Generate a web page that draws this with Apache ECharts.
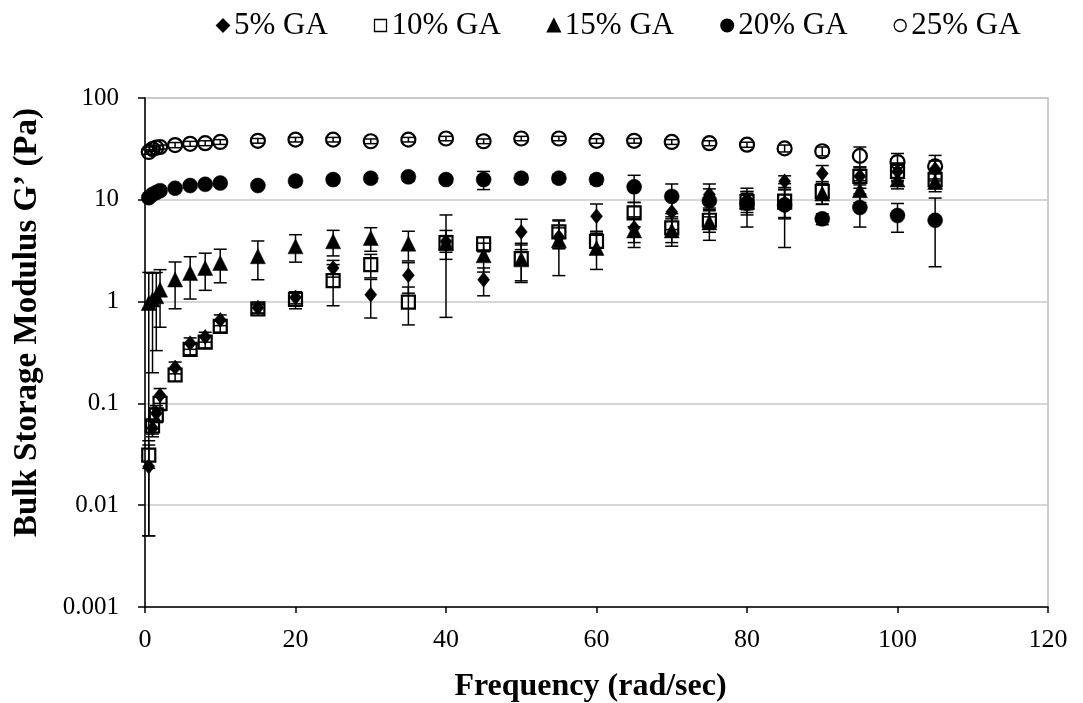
<!DOCTYPE html>
<html>
<head>
<meta charset="utf-8">
<script src="https://cdn.jsdelivr.net/npm/echarts@6/dist/echarts.min.js"></script>
<style>
  html, body { margin: 0; padding: 0; background: #ffffff; }
  #chart { width: 1083px; height: 703px; }
</style>
</head>
<body>
<div id="chart"></div>
<script>
// Oscillation frequency (rad/sec)
const freq = [0.5, 1, 1.5, 2, 4, 6, 8, 10, 15, 20, 25, 30, 35, 40, 45, 50, 55, 60, 65, 70, 75, 80, 85, 90, 95, 100, 105];

// Bulk storage modulus G' (Pa), mean and standard deviation per gum arabic level
const ga5    = [0.024, 0.057, 0.08, 0.12, 0.225, 0.39, 0.45, 0.66, 0.87, 1.1, 2.14, 1.17, 1.81, 3.9, 1.64, 4.84, 4.3, 6.89, 5.3, 7.6, 11.3, 10, 15.2, 18.1, 17, 19, 20];
const ga5Err = [0.019, 0.01, 0.015, 0.02, 0.03, 0.05, 0.05, 0.08, 0.1, 0.15, 0.4, 0.48, 0.6, 3.2, 0.5, 1.6, 1.0, 2.2, 1.5, 2.5, 3.0, 2.0, 2.0, 3.6, 4, 4, 4];

const ga10    = [0.031, 0.06, 0.077, 0.1, 0.19, 0.34, 0.4, 0.57, 0.85, 1.05, 1.61, 2.31, 0.99, 3.8, 3.69, 2.64, 4.84, 3.91, 7.44, 5.3, 6.3, 9.6, 9.7, 12.1, 17.0, 19.0, 15.8];
const ga10Err = [0.008, 0.01, 0.012, 0.015, 0.025, 0.04, 0.05, 0.07, 0.08, 0.2, 0.7, 0.6, 0.4, 1.2, 0.6, 1.1, 1.5, 1.0, 2.0, 1.5, 1.5, 2.5, 3.0, 3.0, 3.0, 3.5, 3.0];

const ga15    = [0.97, 1.05, 1.13, 1.31, 1.65, 1.91, 2.14, 2.4, 2.79, 3.49, 3.91, 4.22, 3.71, 3.75, 2.85, 2.6, 4.0, 3.37, 5.0, 5.0, 6.0, 9.5, 9.5, 11.5, 12.4, 15.8, 15.0];
const ga15Err = [0.965, 0.85, 0.8, 0.75, 0.8, 0.85, 0.85, 0.87, 1.15, 1.05, 1.1, 1.1, 1.2, 0.7, 0.9, 1.0, 2.2, 1.3, 1.6, 1.5, 2.0, 2.0, 3.0, 2.5, 3.0, 3.0, 3.0];

const ga20    = [10.5, 11.3, 11.8, 12.3, 13, 13.8, 14.2, 14.6, 13.8, 15.3, 15.8, 16.3, 16.8, 15.8, 15.8, 16.3, 16.3, 15.8, 13.4, 10.8, 9.8, 9.2, 8.9, 6.5, 8.4, 7.0, 6.3];
const ga20Err = [0.5, 0.5, 0.5, 0.6, 0.7, 0.8, 0.8, 1.0, 0.8, 1.2, 1.3, 1.3, 1.5, 1.2, 3.2, 1.5, 1.5, 1.5, 4.0, 3.5, 3.0, 3.8, 5.5, 0.8, 3.0, 2.2, 4.1];

const ga25    = [29.5, 31.5, 32.5, 33, 34.5, 35.5, 36, 37, 38, 39, 39, 37.6, 39, 40, 37.6, 40, 40, 37.9, 38, 37, 36, 34.8, 32, 30, 27, 23.5, 21.3];
const ga25Err = [1.5, 1.5, 1.5, 1.5, 2, 2, 2, 2, 2, 2, 2, 2, 2, 2, 2, 2, 2, 2, 2, 2, 2, 2, 2.5, 3, 6, 5, 6];

const seriesNames = ['5% GA', '10% GA', '15% GA', '20% GA', '25% GA'];
const xTicks = { min: 0, max: 120, interval: 20 };
const yRange = { min: 0.001, max: 100 };

const serif = '"Liberation Serif", "Times New Roman", serif';
const groups = [
  { name: seriesNames[0], vals: ga5,  err: ga5Err,  symbol: 'diamond',  size: [12, 15], open: false },
  { name: seriesNames[1], vals: ga10, err: ga10Err, symbol: 'rect',     size: 13,       open: true  },
  { name: seriesNames[2], vals: ga15, err: ga15Err, symbol: 'triangle', size: [15, 15], open: false },
  { name: seriesNames[3], vals: ga20, err: ga20Err, symbol: 'circle',   size: 15,       open: false },
  { name: seriesNames[4], vals: ga25, err: ga25Err, symbol: 'circle',   size: 14,       open: true  }
];

// Vertical error bar with end caps, drawn through the axes' own scales
function renderErrorBar(params, api) {
  const x = api.value(0);
  const lo = api.coord([x, api.value(1)]);
  const hi = api.coord([x, api.value(2)]);
  const cap = 6.5;
  const style = { stroke: '#000', lineWidth: 1.5 };
  return {
    type: 'group',
    children: [
      { type: 'line', shape: { x1: lo[0], y1: lo[1], x2: hi[0], y2: hi[1] }, style: style },
      { type: 'line', shape: { x1: lo[0] - cap, y1: lo[1], x2: lo[0] + cap, y2: lo[1] }, style: style },
      { type: 'line', shape: { x1: hi[0] - cap, y1: hi[1], x2: hi[0] + cap, y2: hi[1] }, style: style }
    ]
  };
}

const series = [];
groups.forEach(function (g) {
  series.push({
    name: g.name + ' SD',
    type: 'custom',
    renderItem: renderErrorBar,
    encode: { x: 0, y: [1, 2] },
    data: freq.map(function (f, i) {
      const lo = Math.max(g.vals[i] - g.err[i], yRange.min * 1.2);
      return [f, lo, g.vals[i] + g.err[i]];
    }),
    z: 2,
    silent: true
  });
});
groups.forEach(function (g) {
  series.push({
    name: g.name,
    type: 'scatter',
    symbol: g.symbol,
    symbolSize: g.size,
    data: freq.map(function (f, i) { return [f, g.vals[i]]; }),
    itemStyle: g.open
      ? { color: 'rgba(255,255,255,0)', borderColor: '#000', borderWidth: 2.2, opacity: 1 }
      : { color: '#000', borderColor: '#000', borderWidth: 0.5, opacity: 1 },
    z: 3
  });
});

const chart = echarts.init(document.getElementById('chart'), null, { renderer: 'canvas' });
chart.setOption({
  backgroundColor: '#ffffff',
  animation: false,
  grid: {
    left: 145, right: 35, top: 98, bottom: 96,
    containLabel: false, outerBoundsMode: 'none',
    show: true, borderColor: '#bdbdbd', borderWidth: 1.5, backgroundColor: 'transparent'
  },
  legend: {
    top: 5, left: 211,
    itemGap: 46,
    itemWidth: 12, itemHeight: 12,
    textStyle: { fontFamily: serif, fontSize: 31, color: '#000' },
    data: [
      { name: seriesNames[0], icon: 'diamond',  itemStyle: { color: '#000', opacity: 1 } },
      { name: seriesNames[1], icon: 'rect',     itemStyle: { color: '#fff', borderColor: '#000', borderWidth: 1.3, opacity: 1 } },
      { name: seriesNames[2], icon: 'triangle', itemStyle: { color: '#000', opacity: 1 } },
      { name: seriesNames[3], icon: 'circle',   itemStyle: { color: '#000', opacity: 1 } },
      { name: seriesNames[4], icon: 'circle',   itemStyle: { color: '#fff', borderColor: '#000', borderWidth: 1.3, opacity: 1 } }
    ]
  },
  xAxis: {
    type: 'value',
    min: xTicks.min, max: xTicks.max, interval: xTicks.interval,
    name: 'Frequency (rad/sec)',
    nameLocation: 'middle', nameGap: 64,
    nameTextStyle: { fontFamily: serif, fontSize: 32, fontWeight: 'bold', color: '#000', padding: [0, 12, 0, 0] },
    axisLine: { show: true, onZero: false, lineStyle: { color: '#000', width: 1.5 } },
    axisTick: { show: true, inside: false, length: 6, lineStyle: { color: '#000', width: 1.5 } },
    axisLabel: { fontFamily: serif, fontSize: 26, color: '#000', margin: 20 },
    splitLine: { show: false }
  },
  yAxis: {
    type: 'log', logBase: 10,
    min: yRange.min, max: yRange.max,
    name: 'Bulk Storage Modulus G’ (Pa)',
    nameLocation: 'middle', nameGap: 101,
    nameTextStyle: { fontFamily: serif, fontSize: 33, fontWeight: 'bold', color: '#000', padding: [0, 0, 0, 60] },
    axisLine: { show: true, onZero: false, lineStyle: { color: '#000', width: 1.5 } },
    axisTick: { show: true, inside: false, length: 7, lineStyle: { color: '#000', width: 1.5 } },
    axisLabel: {
      fontFamily: serif, fontSize: 25, color: '#000', margin: 26,
      formatter: function (v) { return String(Number(v.toPrecision(6))); }
    },
    splitLine: { show: true, lineStyle: { color: '#c8c8c8', width: 1.5 } },
    minorTick: { show: false }
  },
  series: series
});
</script>
</body>
</html>
